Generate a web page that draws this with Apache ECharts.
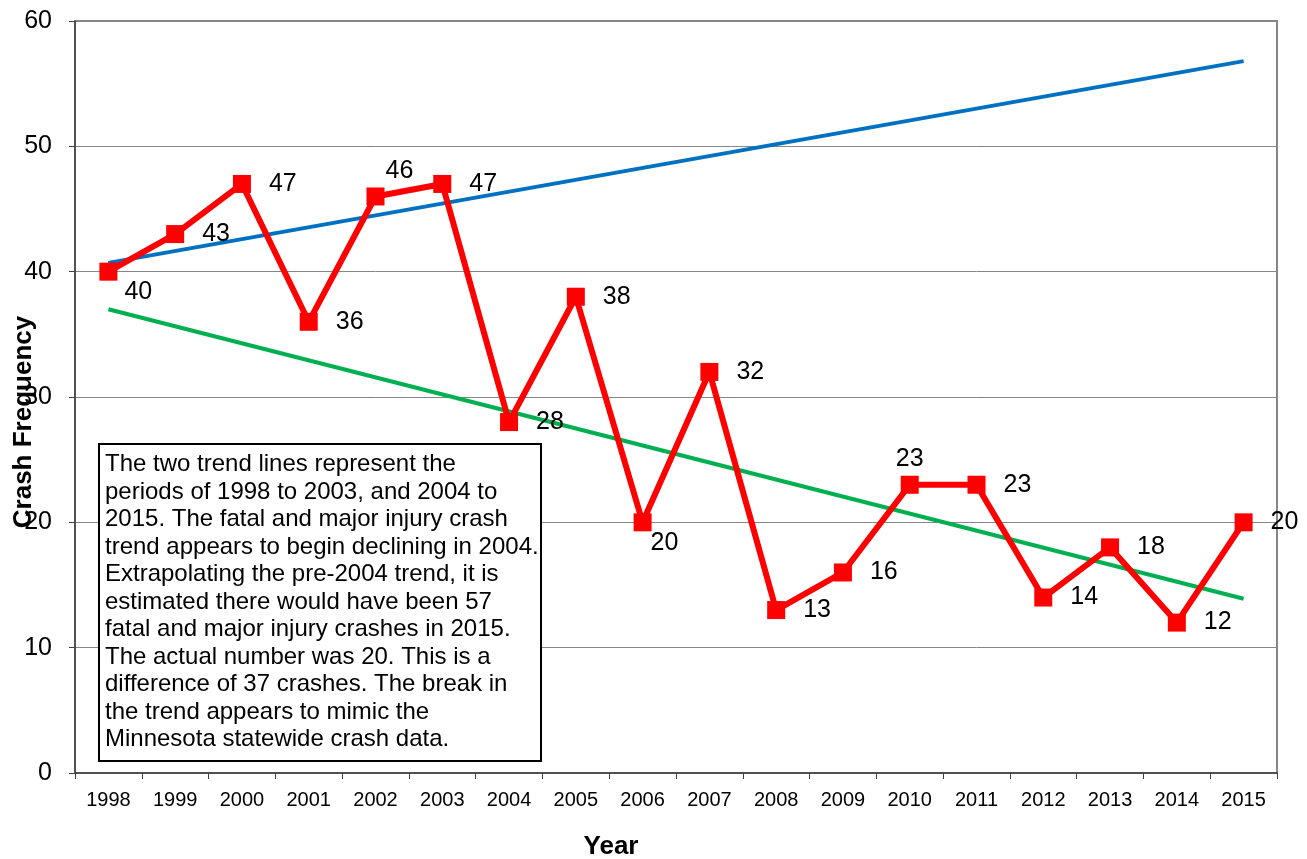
<!DOCTYPE html>
<html>
<head>
<meta charset="utf-8">
<script src="https://cdn.jsdelivr.net/npm/echarts@6/dist/echarts.min.js"></script>
<style>
  html, body { margin: 0; padding: 0; background: #fff; }
  #chart { width: 1307px; height: 859px; }
</style>
</head>
<body>
<div id="chart"></div>
<script>
const years = ['1998', '1999', '2000', '2001', '2002', '2003', '2004', '2005', '2006',
  '2007', '2008', '2009', '2010', '2011', '2012', '2013', '2014', '2015'];
const crashes = [40, 43, 47, 36, 46, 47, 28, 38, 20, 32, 13, 16, 23, 23, 14, 18, 12, 20];
// trend line end points (1998 and 2015)
const preTrend = [40.7, 56.8];
const postTrend = [37.0, 13.9];
const noteText = 'The two trend lines represent the\nperiods of 1998 to 2003, and 2004 to\n2015. The fatal and major injury crash\ntrend appears to begin declining in 2004.\nExtrapolating the pre-2004 trend, it is\nestimated there would have been 57\nfatal and major injury crashes in 2015.\nThe actual number was 20. This is a\ndifference of 37 crashes. The break in\nthe trend appears to mimic the\nMinnesota statewide crash data.';

const FONT = '"Liberation Sans", Arial, sans-serif';

// label tweaks for a few points
const labelFix = {
  0: { offset: [-11, 20] },
  4: { position: 'top', offset: [24, 14] },
  8: { offset: [-19, 21] },
  12: { position: 'top', offset: [0, 14] },
};

const endPoints = (pair) => years.map((y, i) =>
  i === 0 ? pair[0] : (i === years.length - 1 ? pair[1] : null));

const chart = echarts.init(document.getElementById('chart'));

chart.setOption({
  animation: false,
  grid: {
    left: 75, right: 30, top: 21, bottom: 86,
    outerBoundsMode: 'none', containLabel: false,
    show: true, borderColor: '#868686', borderWidth: 2
  },
  xAxis: {
    type: 'category',
    data: years,
    name: 'Year',
    nameLocation: 'middle',
    nameGap: 61,
    nameMoveOverlap: false,
    nameTextStyle: { fontFamily: FONT, fontSize: 26, fontWeight: 'bold', color: '#000', padding: [0, 130, 0, 0] },
    axisLine: { lineStyle: { color: '#404040', width: 1.5 } },
    axisTick: { show: true, length: 6, lineStyle: { color: '#404040' } },
    axisLabel: { fontFamily: FONT, fontSize: 20, color: '#000', margin: 17 },
  },
  yAxis: {
    type: 'value',
    min: 0,
    max: 60,
    interval: 10,
    name: 'Crash Frequency',
    nameLocation: 'middle',
    nameGap: 38,
    nameMoveOverlap: false,
    nameTextStyle: { fontFamily: FONT, fontSize: 26, fontWeight: 'bold', color: '#000', padding: [0, 50, 0, 0] },
    axisLine: { show: true, lineStyle: { color: '#404040', width: 1.5 } },
    axisTick: { show: true, length: 6, lineStyle: { color: '#404040' } },
    axisLabel: { fontFamily: FONT, fontSize: 25, color: '#000', margin: 23 },
    splitLine: { lineStyle: { color: '#868686', width: 1 } },
  },
  series: [
    {
      name: 'pre-2004 trend',
      type: 'line',
      data: endPoints(preTrend),
      connectNulls: true,
      showSymbol: false,
      lineStyle: { color: '#0070C0', width: 4 },
      z: 3,
    },
    {
      name: '2004+ trend',
      type: 'line',
      data: endPoints(postTrend),
      connectNulls: true,
      showSymbol: false,
      lineStyle: { color: '#00B050', width: 4 },
      z: 3,
    },
    {
      name: 'Crashes',
      type: 'line',
      data: crashes.map((v, i) => labelFix[i] ? { value: v, label: labelFix[i] } : v),
      symbol: 'rect',
      symbolSize: 18,
      lineStyle: { color: '#FF0000', width: 6 },
      itemStyle: { color: '#FF0000' },
      label: {
        show: true,
        position: 'right',
        distance: 18,
        fontFamily: FONT,
        fontSize: 25,
        color: '#000',
      },
      z: 4,
    },
  ],
  graphic: [
    {
      type: 'rect',
      left: 98,
      top: 443,
      shape: { width: 442, height: 317 },
      style: { fill: '#fff', stroke: '#000', lineWidth: 2 },
      z: 10,
    },
    {
      type: 'text',
      left: 105,
      top: 451,
      style: {
        text: noteText,
        fontFamily: FONT,
        fontSize: 24,
        lineHeight: 27.5,
        fill: '#000',
      },
      z: 11,
    },
  ],
});
</script>
</body>
</html>
